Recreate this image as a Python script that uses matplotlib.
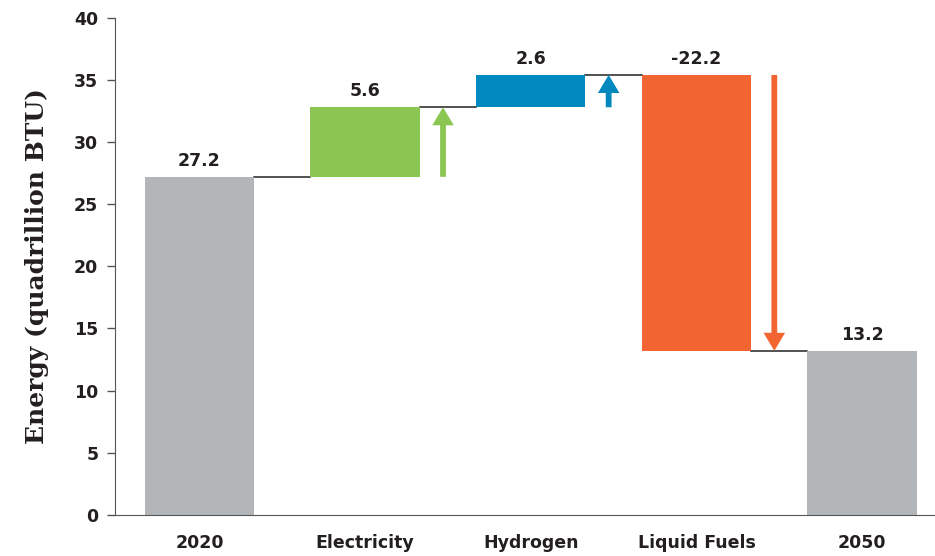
import matplotlib.pyplot as plt
from matplotlib.patches import FancyArrow

categories = ["2020", "Electricity", "Hydrogen", "Liquid Fuels", "2050"]
changes = [27.2, 5.6, 2.6, -22.2, 13.2]
labels = ["27.2", "5.6", "2.6", "-22.2", "13.2"]
colors = ["#b3b6b9", "#8bc653", "#0088bf", "#f26532", "#b3b6b9"]
is_total = [True, False, False, False, True]

# waterfall bottoms / tops
bottoms, tops = [], []
level = 0.0
for val, tot in zip(changes, is_total):
    if tot:
        bottoms.append(0.0)
        tops.append(val)
        level = val
    else:
        start = level
        level = level + val
        bottoms.append(min(start, level))
        tops.append(max(start, level))

fig = plt.figure(figsize=(9.35, 5.56), dpi=100)
ax = fig.add_axes([0.123, 0.074, 0.877, 0.894])

x = list(range(len(categories)))
width = 0.66
ax.bar(x, [t - b for t, b in zip(tops, bottoms)], bottom=bottoms, width=width,
       color=colors, zorder=2)

tfont = dict(family="DejaVu Sans", fontsize=12.5, fontweight="bold", color="#231f20")
for i in x:
    ax.text(i, tops[i] + 0.55, labels[i], ha="center", va="bottom", **tfont)

# connector lines
for i in range(len(x) - 1):
    lvl = tops[i] if (is_total[i] or changes[i] > 0) else bottoms[i]
    ax.plot([i + width / 2, i + 1 - width / 2], [lvl, lvl], color="#333333",
            lw=1.2, zorder=1)

# arrows beside change bars
off = 0.47
for i in x:
    if is_total[i]:
        continue
    start = bottoms[i] if changes[i] > 0 else tops[i]
    ax.add_patch(FancyArrow(i + off, start, 0, changes[i], width=0.035,
                            head_width=0.13, head_length=1.45,
                            length_includes_head=True, color=colors[i],
                            lw=0, zorder=3))

ax.set_xlim(-0.51, 4.44)
ax.set_ylim(0, 40)
ax.set_yticks(range(0, 41, 5))
ax.set_xticks(x)
ax.set_xticklabels(categories)
for lab in ax.get_xticklabels() + ax.get_yticklabels():
    lab.set_fontfamily("DejaVu Sans")
    lab.set_fontsize(12.5)
    lab.set_fontweight("bold")
    lab.set_color("#231f20")
ax.tick_params(axis="y", length=6, width=1, color="#555555", pad=6)
ax.tick_params(axis="x", length=0, pad=14)
ax.spines["top"].set_visible(False)
ax.spines["right"].set_visible(False)
ax.spines["left"].set_color("#555555")
ax.spines["bottom"].set_color("#555555")
ax.set_ylabel("Energy (quadrillion BTU)", family="DejaVu Serif", fontsize=18,
              fontweight="bold", color="#231f20", labelpad=18)

fig.savefig("out.png", dpi=100)
